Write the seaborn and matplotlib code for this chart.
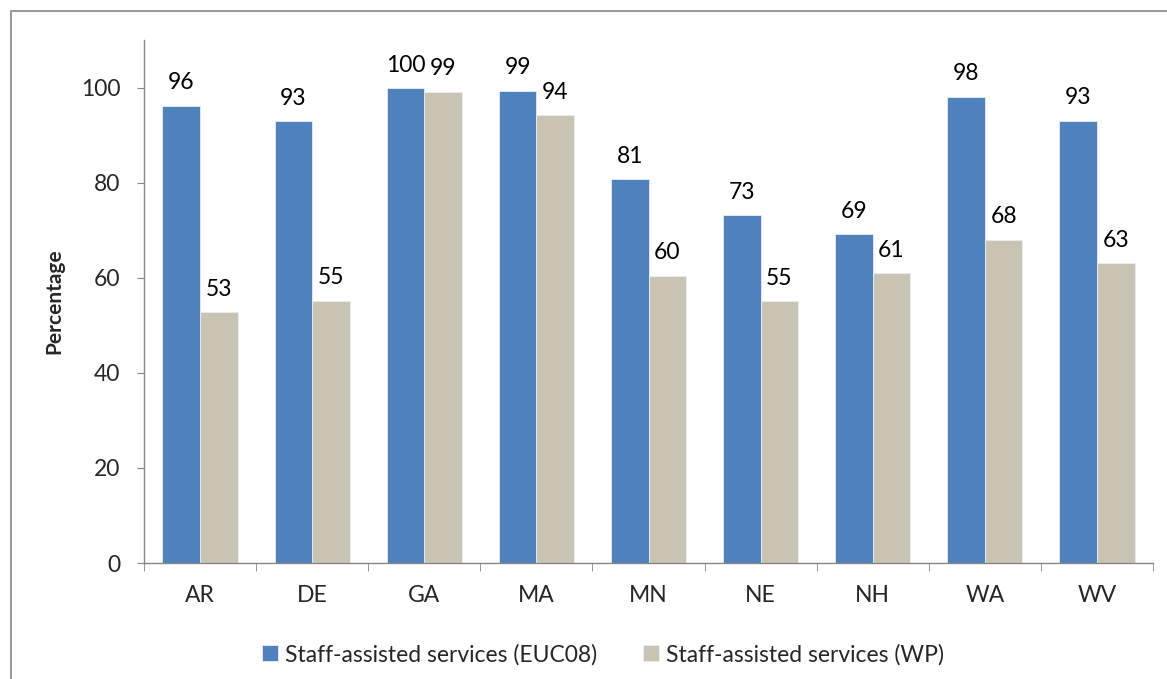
import matplotlib
matplotlib.use("Agg")
import matplotlib.pyplot as plt
import seaborn as sns
import pandas as pd
import numpy as np
from matplotlib.patches import Rectangle

states = ["AR", "DE", "GA", "MA", "MN", "NE", "NH", "WA", "WV"]
euc08 = [96.2, 92.9, 99.8, 99.3, 80.7, 73.1, 69.1, 98.1, 93.0]
wp = [52.7, 55.2, 99.1, 94.2, 60.4, 55.1, 60.9, 68.0, 63.0]
series_names = ["Staff-assisted services (EUC08)", "Staff-assisted services (WP)"]
colors = ["#4F81BD", "#C9C4B2"]

df = pd.DataFrame({
    "state": states * 2,
    "value": euc08 + wp,
    "series": [series_names[0]] * len(states) + [series_names[1]] * len(states),
})

sns.set_style("white")
plt.rcParams["font.family"] = ["Lato", "DejaVu Sans"]

fig = plt.figure(figsize=(11.67, 6.79), dpi=100)
ax = fig.add_axes([144 / 1167, 1 - 563 / 679, (1153 - 144) / 1167, (563 - 40) / 679])

sns.barplot(data=df, x="state", y="value", hue="series", palette=colors,
            width=0.67, saturation=1, ax=ax, edgecolor="#E8EEF7", linewidth=0.6)

for cont in ax.containers:
    ax.bar_label(cont, labels=[f"{int(round(v.get_height()))}" for v in cont],
                 padding=9, fontsize=16.5, color="black")

ax.set_ylim(0, 110)
ax.set_yticks([0, 20, 40, 60, 80, 100])
ax.set_xlim(-0.5, len(states) - 0.5)
ax.set_xlabel("")
ax.set_ylabel("Percentage", fontsize=15, fontweight="bold", labelpad=12)

ax.tick_params(axis="y", labelsize=16.5, length=5, color="#868686", direction="out", left=True, pad=12)
ax.tick_params(axis="x", which="major", labelsize=16.5, length=0, pad=16)
ax.set_xticks(np.arange(-0.5, len(states), 1.0), minor=True)
ax.tick_params(axis="x", which="minor", length=6, color="#868686", direction="out", bottom=True)

for s in ["top", "right"]:
    ax.spines[s].set_visible(False)
for s in ["left", "bottom"]:
    ax.spines[s].set_color("#868686")
    ax.spines[s].set_linewidth(1.0)

leg = ax.legend(loc="upper center", bbox_to_anchor=(0.455, -0.115), ncol=2, frameon=False,
                fontsize=16.5, handlelength=0.7, handleheight=0.7, handletextpad=0.3,
                columnspacing=2.0)

fig.patches.append(Rectangle((11 / 1167, -0.05), 1.1, 1 - 11 / 679 + 0.05,
                             transform=fig.transFigure, fill=False,
                             edgecolor="#868686", linewidth=1.2))

fig.savefig("out.png", dpi=100)
